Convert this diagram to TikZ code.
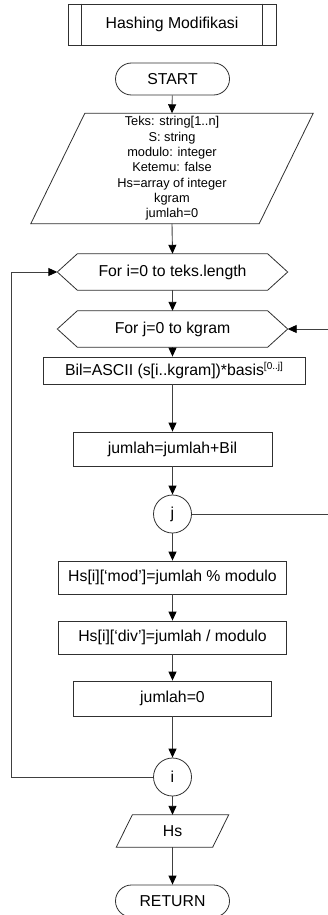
\documentclass[tikz,border=0pt]{standalone}
\usepackage{fontspec}
\setmainfont{Liberation Sans}
\usetikzlibrary{arrows.meta,shapes.misc,calc}
\definecolor{lineC}{HTML}{404040}
\definecolor{boxC}{HTML}{303030}

% outline of a flow-chart hexagon (loop header) around an invisible node
\newcommand\loophex[1]{%
  \draw[shapeline] (#1.west) -- ([xshift=20pt]#1.north west) -- ([xshift=-20pt]#1.north east)
    -- (#1.east) -- ([xshift=-20pt]#1.south east) -- ([xshift=20pt]#1.south west) -- cycle;}
% outline of a data (input/output) parallelogram around an invisible node
\newcommand\iopara[2]{%
  \draw[shapeline] ([xshift=-#2]#1.south west) -- ([xshift=#2]#1.north west)
    -- ([xshift=#2]#1.north east) -- ([xshift=-#2]#1.south east) -- cycle;}

\begin{document}
\begin{tikzpicture}[x=1pt,y=-1pt,
  mainfont/.style={font=\fontsize{15.8}{18}\selectfont},
  shapeline/.style={draw=boxC, line width=0.8pt},
  box/.style={shapeline, rectangle, inner sep=0pt, mainfont},
  plain/.style={rectangle, inner sep=0pt, mainfont},
  term/.style={shapeline, rounded rectangle, minimum width=114pt, minimum height=32pt, inner sep=0pt, mainfont},
  conn/.style={draw=lineC, line width=0.9pt, -{Triangle[length=9pt,width=8pt,color=black]}},
  wire/.style={draw=lineC, line width=0.9pt},
  joint/.style={shapeline, circle, minimum size=38pt, inner sep=0pt, mainfont}]

\useasboundingbox (0,0) rectangle (328,915);

% title block with double side bars
\node[box, minimum width=208pt, minimum height=41pt] (title) at (172,24.5) {Hashing Modifikasi};
\draw[shapeline] ([xshift=14pt]title.north west) -- ([xshift=14pt]title.south west);
\draw[shapeline] ([xshift=-14pt]title.north east) -- ([xshift=-14pt]title.south east);

\node[term] (start) at (172.5,79) {START};

% declarations
\node[plain, minimum width=228pt, minimum height=110pt, align=center,
      font=\fontsize{12.8}{15.3}\selectfont] (decl) at (172,168.5)
  {Teks: string[1..n]\\S: string\\modulo: integer\\Ketemu: false\\Hs=array of integer\\kgram\\jumlah=0};
\iopara{decl}{27pt}

% outer and inner loops
\node[plain, minimum width=230pt, minimum height=36pt] (forI) at (172.5,272) {For i=0 to teks.length};
\loophex{forI}
\node[plain, minimum width=230pt, minimum height=36pt] (forJ) at (172.5,329) {For j=0 to kgram};
\loophex{forJ}

\node[box, minimum width=262pt, minimum height=27pt] (bil) at (174,370.5)
  {Bil=ASCII (s[i..kgram])*basis\raisebox{6pt}{\fontsize{10}{10}\selectfont[0..j]}};
\node[box, minimum width=199pt, minimum height=34pt] (sum) at (172.5,449) {jumlah=jumlah+Bil};
\node[joint] (jC) at (172.5,514) {j};
\node[box, minimum width=228pt, minimum height=33pt] (hmod) at (172.5,577.5) {Hs[i][‘mod’]=jumlah \% modulo};
\node[box, minimum width=228pt, minimum height=33pt] (hdiv) at (172.5,637.5) {Hs[i][‘div’]=jumlah / modulo};
\node[box, minimum width=198pt, minimum height=35pt] (zero) at (172.5,698.5) {jumlah=0};
\node[joint] (iC) at (172.5,777) {i};

\node[plain, minimum width=96pt, minimum height=32pt] (out) at (172.5,831) {Hs};
\iopara{out}{8pt}
\node[term] (ret) at (172.5,901) {RETURN};

% main flow
\draw[conn] (start) -- (decl.north);
\draw[conn] (decl.south) -- (forI.north);
\draw[conn] (forI.south) -- (forJ.north);
\draw[conn] (forJ.south) -- (forJ.south |- bil.north);
\draw[conn] (forJ.south |- bil.south) -- (sum.north);
\draw[conn] (sum) -- (jC);
\draw[conn] (jC) -- (hmod);
\draw[conn] (hmod) -- (hdiv);
\draw[conn] (hdiv) -- (zero);
\draw[conn] (zero) -- (iC);
\draw[conn] (iC) -- (out.north);
\draw[conn] (out.south) -- (ret);

% loop-back connectors
\coordinate (lp) at (11,777);
\draw[conn] (iC.west) -- (lp) |- (forI.west);
\coordinate (jr) at (328,514);
\coordinate (fr) at (328,329);
\draw[wire] (jC.east) -- (jr);
\draw[conn] (fr) -- (forJ.east);
\end{tikzpicture}
\end{document}
